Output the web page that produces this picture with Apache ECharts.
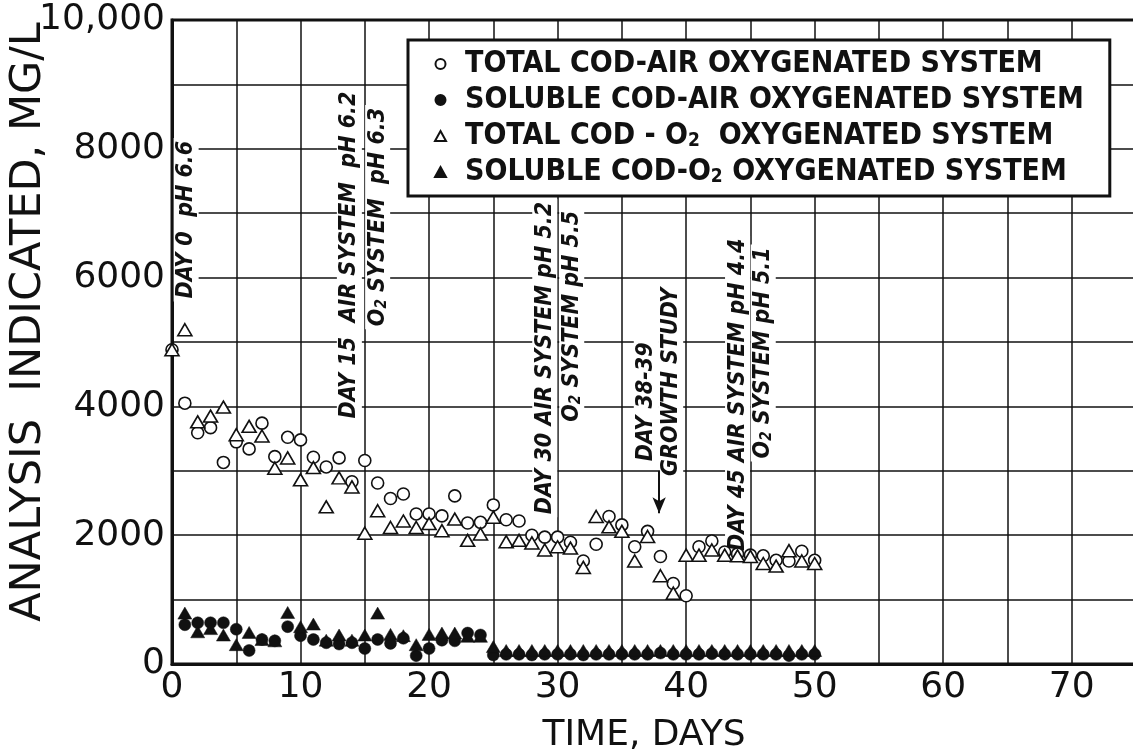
<!DOCTYPE html>
<html>
<head>
<meta charset="utf-8">
<title>COD vs time</title>
<script src="https://cdn.jsdelivr.net/npm/echarts@6/dist/echarts.min.js"></script>
<style>
  html, body { margin: 0; padding: 0; background: #fff; }
  #chart { width: 1133px; height: 755px; }
</style>
</head>
<body>
<div id="chart"></div>
<script>
// days 0..50 for total COD, 1..50 for soluble COD
const totalAirDays = [0,1,2,3,4,5,6,7,8,9,10,11,12,13,14,15,16,17,18,19,20,21,22,23,24,25,26,27,28,29,30,31,32,33,34,35,36,37,38,39,40,41,42,43,44,45,46,47,48,49,50];
const totalAir = [4880,4050,3590,3670,3130,3450,3340,3740,3220,3520,3480,3210,3060,3200,2830,3160,2810,2570,2640,2330,2330,2300,2610,2190,2200,2470,2240,2220,2000,1970,1970,1890,1600,1860,2290,2160,1820,2060,1670,1250,1060,1820,1910,1740,1710,1690,1680,1610,1600,1750,1610];
const totalO2 = [4880,5190,3760,3850,3990,3560,3690,3540,3040,3200,2860,3050,2440,2890,2750,2030,2380,2120,2220,2120,2180,2070,2250,1920,2020,2280,1900,1920,1880,1770,1820,1800,1500,2290,2130,2060,1600,1980,1370,1100,1690,1690,1770,1690,1680,1670,1560,1520,1760,1600,1560];

const solubleDays = [1,2,3,4,5,6,7,8,9,10,11,12,13,14,15,16,17,18,19,20,21,22,23,24,25,26,27,28,29,30,31,32,33,34,35,36,37,38,39,40,41,42,43,44,45,46,47,48,49,50];
const solubleAir = [610,640,640,640,540,210,380,360,580,440,380,330,310,330,240,380,320,400,130,240,370,360,480,450,140,150,150,140,150,150,150,140,150,150,150,150,150,170,150,150,150,160,150,150,150,150,150,130,150,150];
const solubleO2 = [790,500,550,450,300,490,380,360,800,580,620,370,450,370,450,790,460,440,300,460,480,480,430,430,270,210,210,210,210,210,210,210,210,210,210,210,210,210,210,210,210,210,210,210,210,210,210,210,210,210];

const seriesNames = [
  'TOTAL COD-AIR OXYGENATED SYSTEM',
  'SOLUBLE COD-AIR OXYGENATED SYSTEM',
  'TOTAL COD - O2  OXYGENATED SYSTEM',
  'SOLUBLE COD-O2 OXYGENATED SYSTEM'
];

// [day, value, text] - centre of each vertical note
const notes = [
  [1.1, 6900, 'DAY 0  pH 6.6'],
  [13.8, 6350, 'DAY 15  AIR SYSTEM  pH 6.2'],
  [16.0, 6940, 'O2 SYSTEM  pH 6.3'],
  [29.0, 4750, 'DAY 30 AIR SYSTEM pH 5.2'],
  [31.1, 5400, 'O2 SYSTEM pH 5.5'],
  [36.9, 4070, 'DAY 38-39'],
  [38.8, 4380, 'GROWTH STUDY'],
  [44.0, 4180, 'DAY 45 AIR SYSTEM pH 4.4'],
  [46.0, 4830, 'O2 SYSTEM pH 5.1']
];
const growthArrow = [[37.9, 3010], [37.9, 2340]];

const ink = '#111';
const font = 'DejaVu Sans';

function pairs(xs, ys) {
  return ys.map((v, i) => [xs[i], v]);
}
function subO2(s) {
  return s.replace('O2', 'O{s|2}');
}

const hollow = { color: '#fff', borderColor: ink, borderWidth: 1.6, opacity: 1 };
const filled = { color: ink, borderColor: ink, borderWidth: 0.5, opacity: 1 };

const chart = echarts.init(document.getElementById('chart'), null, { renderer: 'canvas' });

chart.setOption({
  backgroundColor: '#fff',
  animation: false,
  grid: {
    left: 172, top: 20, right: -3, bottom: 91,
    outerBoundsMode: 'none', containLabel: false,
    show: true, borderColor: ink, borderWidth: 3, backgroundColor: 'transparent'
  },
  legend: {
    data: seriesNames,
    orient: 'vertical',
    left: 408, top: 40,
    padding: [9, 26, 9, 26],
    itemGap: 6,
    itemWidth: 11, itemHeight: 10,
    backgroundColor: '#fff',
    borderColor: ink, borderWidth: 3,
    formatter: subO2,
    textStyle: {
      fontFamily: 'DejaVu Sans Condensed', fontSize: 30, fontWeight: 'bold', color: ink,
      padding: [0, 0, 0, 14],
      rich: {
        s: { fontFamily: 'DejaVu Sans Condensed', fontSize: 19, fontWeight: 'bold', color: ink, verticalAlign: 'bottom', padding: [9, 0, 0, 0] }
      }
    },
    z: 20
  },
  xAxis: {
    type: 'value', min: 0, max: 75, interval: 5,
    name: 'TIME, DAYS', nameLocation: 'middle', nameGap: 54,
    nameTextStyle: { fontFamily: font, fontSize: 36, color: ink, padding: [0, 20, 0, 0] },
    axisLine: { show: true, lineStyle: { color: ink, width: 3 } },
    axisTick: { show: false },
    axisLabel: {
      margin: 6, fontFamily: font, fontSize: 36, color: ink,
      formatter: v => (v % 10 === 0 ? String(v) : '')
    },
    splitLine: { show: true, lineStyle: { color: ink, width: 1.5 } }
  },
  yAxis: {
    type: 'value', min: 0, max: 10000, interval: 1000,
    name: 'ANALYSIS  INDICATED, MG/L', nameLocation: 'middle', nameGap: 122,
    nameMoveOverlap: false,
    nameTextStyle: { fontFamily: font, fontSize: 43, color: ink, padding: [0, 0, 0, 40] },
    axisLine: { show: true, lineStyle: { color: ink, width: 3 } },
    axisTick: { show: false },
    axisLabel: {
      margin: 7, fontFamily: font, fontSize: 36, color: ink,
      formatter: v => (v === 10000 ? '10,000' : v % 2000 === 0 ? String(v) : '')
    },
    splitLine: { show: true, lineStyle: { color: ink, width: 1.5 } }
  },
  series: [
    {
      name: seriesNames[0], type: 'scatter', symbol: 'circle', symbolSize: 12,
      itemStyle: hollow, data: pairs(totalAirDays, totalAir), z: 3
    },
    {
      name: seriesNames[1], type: 'scatter', symbol: 'circle', symbolSize: 12,
      itemStyle: filled, data: pairs(solubleDays, solubleAir), z: 3
    },
    {
      name: seriesNames[2], type: 'scatter', symbol: 'triangle', symbolSize: [14, 12],
      itemStyle: hollow, data: pairs(totalAirDays, totalO2), z: 4
    },
    {
      name: seriesNames[3], type: 'scatter', symbol: 'triangle', symbolSize: [14, 12],
      itemStyle: filled, data: pairs(solubleDays, solubleO2), z: 4
    },
    {
      name: 'notes', type: 'scatter', symbolSize: 0, silent: true, z: 2,
      itemStyle: { opacity: 1 },
      data: notes.map(n => ({ value: [n[0], n[1]], name: n[2] })),
      label: {
        show: true, position: 'inside', rotate: 90,
        formatter: p => subO2(p.name),
        fontFamily: 'DejaVu Sans Condensed', fontSize: 23, fontStyle: 'italic', fontWeight: 'bold',
        color: ink, opacity: 1, backgroundColor: '#fff', padding: [1, 3],
        rich: {
          s: { fontFamily: 'DejaVu Sans Condensed', fontSize: 15, fontStyle: 'italic', fontWeight: 'bold', color: ink, verticalAlign: 'bottom', padding: [6, 0, 0, 0] }
        }
      },
      markLine: {
        silent: true, symbol: ['none', 'arrow'], symbolSize: [10, 16],
        label: { show: false },
        lineStyle: { color: ink, width: 2, type: 'solid', opacity: 1 },
        data: [[{ coord: growthArrow[0] }, { coord: growthArrow[1] }]]
      }
    }
  ]
});
</script>
</body>
</html>
